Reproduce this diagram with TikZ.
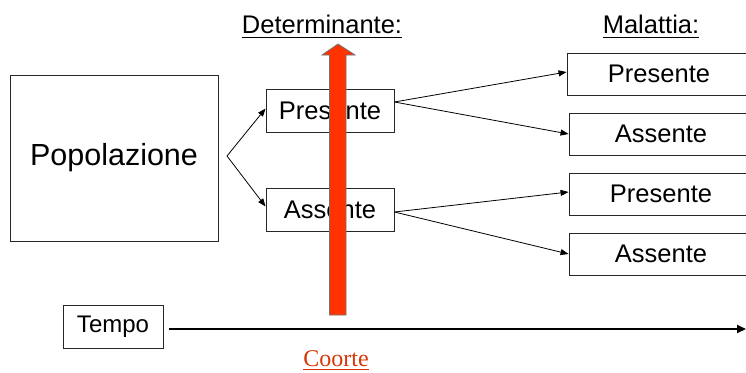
\documentclass[tikz,border=0pt]{standalone}
\usepackage{fontspec}
\setmainfont{Liberation Sans}
\newfontfamily\coorteserif{Liberation Serif}
\usetikzlibrary{arrows.meta}
\definecolor{arrowred}{RGB}{255,51,0}
\definecolor{coortered}{RGB}{214,56,8}
\tikzset{
  box/.style={draw=black!85, line width=0.9pt, rectangle, inner sep=0pt, align=center,
    font=\fontsize{25.5}{30}\selectfont},
  midbox/.style={box, minimum width=128pt, minimum height=43pt},
  outbox/.style={box, minimum width=184pt, minimum height=42pt},
  link/.style={line width=0.8pt, -{Triangle[length=8pt,width=6pt]}},
  heading/.style={inner sep=0pt, anchor=base, font=\fontsize{25.5}{30}\selectfont},
}
\begin{document}
\begin{tikzpicture}[x=1pt, y=-1pt]
\useasboundingbox (0,0) rectangle (746,372);

% population and exposure groups
\node[box, minimum width=208pt, minimum height=166pt, font=\fontsize{30.5}{36}\selectfont]
  (pop) at (114,158) {Popolazione};
\node[midbox] (p1) at (330,110.5) {Presente};
\node[midbox] (a1) at (330,209.5) {Assente};

% outcome groups
\node[outbox] (r1) at (659,74) {Presente};
\node[outbox] (r2) at (661,134) {Assente};
\node[outbox] (r3) at (661,194) {Presente};
\node[outbox] (r4) at (661,254) {Assente};

% headings
\node[heading] (det) at (322,33) {Determinante:};
\node[heading] (mal) at (651,33) {Malattia:};
\draw[line width=1.4pt] ([yshift=-4.5pt]det.base west) -- ([yshift=-4.5pt]det.base east);
\draw[line width=1.4pt] ([yshift=-4.5pt]mal.base west) -- ([yshift=-4.5pt]mal.base east);

% branches
\coordinate (fork) at (227,156);
\draw[link] (fork) -- ([yshift=2pt]p1.west);
\draw[link] (fork) -- ([yshift=3pt]a1.west);
\coordinate (p1out) at ([yshift=8.5pt]p1.east);
\coordinate (a1out) at ([yshift=-2.5pt]a1.east);
\draw[link] (p1out) -- ([yshift=2pt]r1.west);
\draw[link] (p1out) -- (r2.west);
\draw[link] (a1out) -- ([yshift=2pt]r3.west);
\draw[link] (a1out) -- (r4.west);

% time axis
\node[box, minimum width=100pt, minimum height=43pt, font=\fontsize{24}{28}\selectfont]
  (tempo) at (113,326.5) {Tempo};
\coordinate (tstart) at (169,329);
\coordinate (tend) at (746,329);
\draw[line width=1.8pt, -{Triangle[length=9pt,width=8pt]}] (tstart) -- (tend);

% cohort direction arrow
\filldraw[fill=arrowred, draw=black!55, line width=0.8pt]
  (329.5,315) -- (329.5,55) -- (322,55) -- (338,44) -- (355,55) -- (346,55) -- (346,315) -- cycle;

% label
\node[inner sep=0pt, anchor=base, text=coortered, font=\coorteserif\fontsize{24}{28}\selectfont]
  (coorte) at (336,366) {Coorte};
\draw[coortered, line width=1pt] ([yshift=-3pt]coorte.base west) -- ([yshift=-3pt]coorte.base east);
\end{tikzpicture}
\end{document}
